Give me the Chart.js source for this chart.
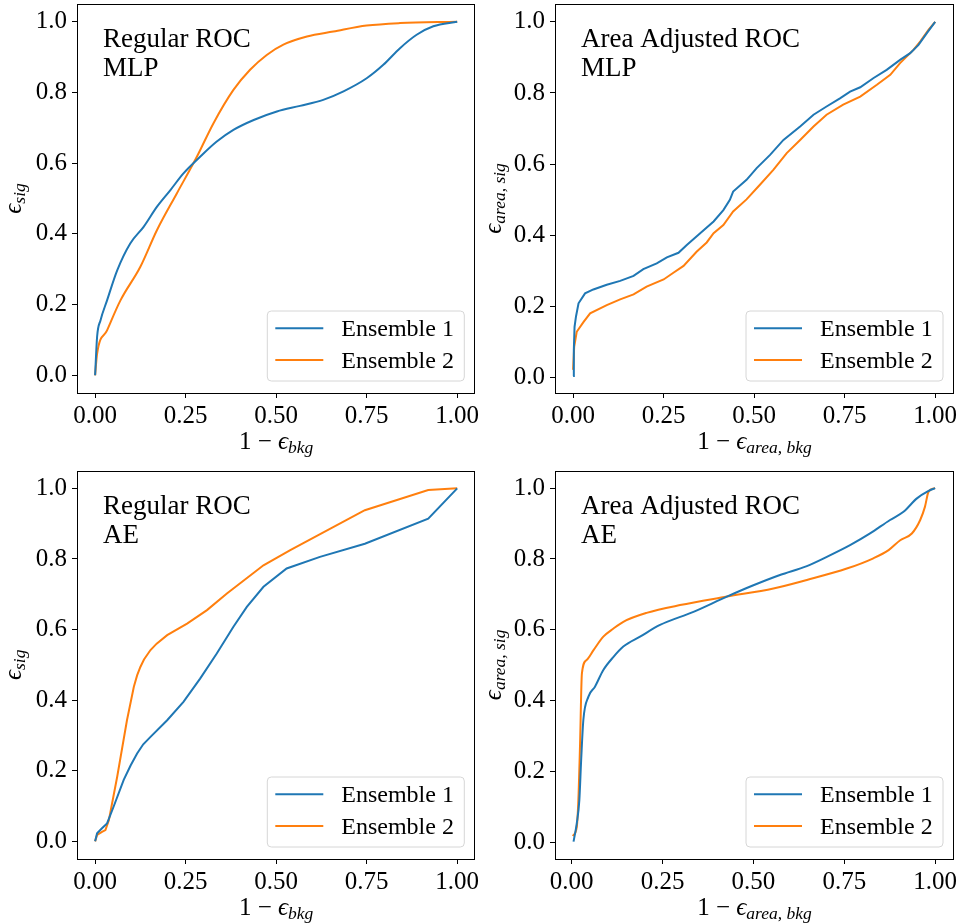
<!DOCTYPE html>
<html>
<head>
<meta charset="utf-8">
<script src="https://cdn.jsdelivr.net/npm/chart.js@4.4.1/dist/chart.umd.min.js"></script>
<style>
  body { margin: 0; background: #fff; }
  #wrap { position: relative; width: 961px; height: 924px; }
  canvas { position: absolute; }
</style>
</head>
<body>
<div id="wrap">
  <canvas id="c1" width="480" height="462" style="left:0;top:0"></canvas>
  <canvas id="c2" width="481" height="462" style="left:480px;top:0"></canvas>
  <canvas id="c3" width="480" height="462" style="left:0;top:462px"></canvas>
  <canvas id="c4" width="481" height="462" style="left:480px;top:462px"></canvas>
</div>
<script>
const seriesNames = ["Ensemble 1", "Ensemble 2"];
const seriesColors = ["#1f77b4", "#ff7f0e"];
const xTickValues = [0, 0.25, 0.5, 0.75, 1];
const yTickValues = [0, 0.2, 0.4, 0.6, 0.8, 1];

// Regular ROC, MLP
const mlpRocX1 = [0, 0.0055, 0.015, 0.033, 0.061, 0.097, 0.134, 0.171, 0.208, 0.244, 0.29, 0.336, 0.382, 0.438, 0.502, 0.566, 0.63, 0.686, 0.75, 0.796, 0.842, 0.888, 0.934, 1];
const mlpRocY1 = [0, 0.109, 0.156, 0.212, 0.297, 0.373, 0.42, 0.477, 0.524, 0.571, 0.618, 0.661, 0.694, 0.722, 0.746, 0.762, 0.779, 0.803, 0.84, 0.878, 0.925, 0.963, 0.987, 1];
const mlpRocX2 = [0, 0.0055, 0.033, 0.07, 0.125, 0.171, 0.226, 0.281, 0.327, 0.382, 0.428, 0.474, 0.52, 0.585, 0.658, 0.75, 0.842, 1];
const mlpRocY2 = [0, 0.061, 0.127, 0.212, 0.307, 0.411, 0.515, 0.618, 0.713, 0.807, 0.864, 0.906, 0.935, 0.958, 0.972, 0.989, 0.996, 1];

// Area adjusted ROC, MLP
const mlpAreaX1 = [0, 0.002, 0.004, 0.008, 0.015, 0.033, 0.056, 0.093, 0.13, 0.167, 0.194, 0.231, 0.259, 0.291, 0.314, 0.351, 0.388, 0.415, 0.433, 0.442, 0.479, 0.507, 0.544, 0.581, 0.627, 0.664, 0.7, 0.737, 0.765, 0.793, 0.83, 0.866, 0.903, 0.931, 0.954, 0.977, 1];
const mlpAreaY1 = [0.005, 0.078, 0.143, 0.172, 0.209, 0.237, 0.248, 0.261, 0.272, 0.286, 0.305, 0.321, 0.338, 0.351, 0.373, 0.406, 0.439, 0.471, 0.5, 0.523, 0.556, 0.589, 0.626, 0.668, 0.706, 0.739, 0.762, 0.785, 0.804, 0.816, 0.842, 0.865, 0.893, 0.912, 0.935, 0.968, 1];
const mlpAreaX2 = [0, 0.003, 0.01, 0.029, 0.047, 0.093, 0.13, 0.167, 0.203, 0.25, 0.277, 0.305, 0.341, 0.369, 0.388, 0.415, 0.442, 0.479, 0.516, 0.553, 0.59, 0.627, 0.664, 0.7, 0.746, 0.793, 0.839, 0.876, 0.903, 0.94, 0.959, 0.982, 1];
const mlpAreaY2 = [0.022, 0.087, 0.129, 0.157, 0.181, 0.204, 0.22, 0.234, 0.256, 0.276, 0.295, 0.314, 0.354, 0.38, 0.406, 0.429, 0.467, 0.501, 0.542, 0.584, 0.631, 0.668, 0.706, 0.739, 0.767, 0.79, 0.823, 0.851, 0.884, 0.921, 0.945, 0.978, 1];

// Regular ROC, AE
const aeRocX1 = [0, 0.0055, 0.019, 0.033, 0.051, 0.079, 0.098, 0.116, 0.133, 0.153, 0.199, 0.244, 0.29, 0.336, 0.382, 0.419, 0.465, 0.529, 0.621, 0.745, 0.92, 1];
const aeRocY1 = [0, 0.023, 0.037, 0.051, 0.098, 0.174, 0.215, 0.249, 0.275, 0.296, 0.343, 0.395, 0.461, 0.532, 0.608, 0.664, 0.721, 0.773, 0.806, 0.843, 0.914, 1];
const aeRocX2 = [0, 0.0055, 0.019, 0.0285, 0.038, 0.061, 0.088, 0.107, 0.116, 0.125, 0.135, 0.153, 0.17, 0.199, 0.254, 0.309, 0.364, 0.465, 0.539, 0.745, 0.92, 1];
const aeRocY2 = [0, 0.018, 0.027, 0.032, 0.06, 0.183, 0.343, 0.438, 0.47, 0.494, 0.515, 0.542, 0.56, 0.584, 0.617, 0.655, 0.702, 0.782, 0.825, 0.938, 0.995, 1];

// Area adjusted ROC, AE
const aeAreaX1 = [0.005, 0.014, 0.021, 0.026, 0.032, 0.046, 0.064, 0.087, 0.115, 0.142, 0.188, 0.243, 0.335, 0.427, 0.5, 0.573, 0.647, 0.702, 0.766, 0.821, 0.876, 0.913, 0.95, 0.982, 1];
const aeAreaY1 = [0.003, 0.055, 0.12, 0.233, 0.346, 0.412, 0.44, 0.487, 0.524, 0.553, 0.581, 0.614, 0.651, 0.694, 0.726, 0.755, 0.78, 0.806, 0.839, 0.872, 0.91, 0.933, 0.971, 0.992, 1];
const aeAreaX2 = [0.003, 0.014, 0.019, 0.023, 0.028, 0.041, 0.06, 0.087, 0.115, 0.142, 0.206, 0.298, 0.427, 0.555, 0.647, 0.757, 0.83, 0.872, 0.904, 0.936, 0.959, 0.972, 0.982, 1];
const aeAreaY2 = [0.019, 0.045, 0.139, 0.28, 0.477, 0.515, 0.543, 0.581, 0.604, 0.623, 0.648, 0.67, 0.694, 0.717, 0.741, 0.773, 0.802, 0.825, 0.853, 0.872, 0.91, 0.947, 0.99, 1];

const serif = '"Liberation Serif", "DejaVu Serif", serif';

const panels = [
  { id: "c1", title: ["Regular ROC", "MLP"], sub: "bkg", ysub: "sig",
    series: [[mlpRocX1, mlpRocY1], [mlpRocX2, mlpRocY2]], smooth: true,
    x: [-0.05, 1.05], y: [-0.05, 1.05], area: { l: 77, t: 4, r: 475.3, b: 393 } },
  { id: "c2", title: ["Area Adjusted ROC", "MLP"], sub: "area, bkg", ysub: "area, sig",
    series: [[mlpAreaX1, mlpAreaY1], [mlpAreaX2, mlpAreaY2]], smooth: false,
    x: [-0.05, 1.052], y: [-0.043, 1.05], area: { l: 75, t: 4, r: 474, b: 393 } },
  { id: "c3", title: ["Regular ROC", "AE"], sub: "bkg", ysub: "sig",
    series: [[aeRocX1, aeRocY1], [aeRocX2, aeRocY2]], smooth: false,
    x: [-0.05, 1.05], y: [-0.05, 1.05], area: { l: 77, t: 8.7, r: 475.3, b: 397 } },
  { id: "c4", title: ["Area Adjusted ROC", "AE"], sub: "area, bkg", ysub: "area, sig",
    series: [[aeAreaX1, aeAreaY1], [aeAreaX2, aeAreaY2]], smooth: true,
    x: [-0.046, 1.052], y: [-0.046, 1.049], area: { l: 75, t: 8.7, r: 474, b: 397 } }
];

// draws "main" + subscript, centred on x
function drawMath(ctx, main, sub, x, y) {
  const fMain = "25px " + serif, fMainIt = "italic 25px " + serif, fSub = "italic 17.5px " + serif;
  const parts = [[main, fMain, 0], ["\u03f5", fMainIt, 0], [sub, fSub, 4]];
  let total = 0;
  const w = parts.map(p => { ctx.font = p[1]; const m = ctx.measureText(p[0]).width; total += m; return m; });
  let cx = x - total / 2;
  ctx.textAlign = "left";
  ctx.textBaseline = "alphabetic";
  parts.forEach((p, i) => { ctx.font = p[1]; ctx.fillText(p[0], cx, y + p[2]); cx += w[i]; });
}

const decorations = {
  id: "decorations",
  afterDraw(chart, args, opts) {
    const ctx = chart.ctx, ca = chart.chartArea, p = opts.panel;
    ctx.save();
    ctx.fillStyle = "#000";

    // frame
    ctx.strokeStyle = "#000";
    ctx.lineWidth = 1;
    ctx.strokeRect(Math.round(ca.left) + 0.5, Math.round(ca.top) + 0.5,
      Math.round(ca.right - ca.left) - 1, Math.round(ca.bottom - ca.top));

    // axis labels
    drawMath(ctx, "1 \u2212 ", p.sub, (ca.left + ca.right) / 2, ca.bottom + 55.5);
    ctx.save();
    ctx.translate(20.5, (ca.top + ca.bottom) / 2);
    ctx.rotate(-Math.PI / 2);
    drawMath(ctx, "", p.ysub, 0, 0);
    ctx.restore();

    // text in the corner
    ctx.font = "27px " + serif;
    ctx.textAlign = "left";
    ctx.textBaseline = "alphabetic";
    ctx.fillText(p.title[0], ca.left + 26, ca.top + 43.3);
    ctx.fillText(p.title[1], ca.left + 26, ca.top + 71.8);

    // legend
    const bx = ca.right - 208.5, by = ca.bottom - 82.5, bw = 197, bh = 70;
    ctx.beginPath();
    ctx.roundRect(bx + 0.5, by + 0.5, bw, bh, 4);
    ctx.fillStyle = "rgba(255,255,255,0.8)";
    ctx.fill();
    ctx.strokeStyle = "#d6d6d6";
    ctx.stroke();
    ctx.font = "24px " + serif;
    chart.data.datasets.forEach((ds, i) => {
      const ly = by + 17.8 + i * 31.6;
      ctx.beginPath();
      ctx.moveTo(bx + 8.5, ly);
      ctx.lineTo(bx + 56.5, ly);
      ctx.strokeStyle = ds.borderColor;
      ctx.lineWidth = 2;
      ctx.stroke();
      ctx.fillStyle = "#000";
      ctx.fillText(ds.label, bx + 74.5, by + 25.5 + i * 31.6);
    });
    ctx.restore();
  }
};

panels.forEach(p => {
  const canvas = document.getElementById(p.id);
  const a = p.area;
  new Chart(canvas.getContext("2d"), {
    type: "scatter",
    data: {
      datasets: p.series.map((s, i) => ({
        label: seriesNames[i],
        data: s[0].map((x, k) => ({ x: x, y: s[1][k] })),
        showLine: true,
        borderColor: seriesColors[i],
        borderWidth: 2,
        pointRadius: 0,
        fill: false,
        cubicInterpolationMode: p.smooth ? "monotone" : "default",
        tension: 0
      }))
    },
    options: {
      responsive: false,
      animation: false,
      events: [],
      layout: { padding: { left: 0, top: a.t, right: canvas.width - a.r, bottom: 0 } },
      plugins: {
        legend: { display: false },
        tooltip: { enabled: false },
        decorations: { panel: p }
      },
      scales: {
        x: {
          type: "linear",
          min: p.x[0], max: p.x[1],
          afterFit: s => {
            s.height = canvas.height - a.b;
            s.paddingLeft = 0; s.paddingRight = 0;
          },
          afterBuildTicks: s => { s.ticks = xTickValues.map(v => ({ value: v })); },
          border: { display: false },
          grid: { drawOnChartArea: false, drawTicks: true, tickLength: 5, tickColor: "#000", color: "#000" },
          ticks: { color: "#000", padding: 3, maxRotation: 0, font: { family: serif, size: 25 },
            callback: v => v.toFixed(2) }
        },
        y: {
          type: "linear",
          min: p.y[0], max: p.y[1],
          afterFit: s => {
            s.width = a.l;
            s.paddingTop = 0; s.paddingBottom = 0;
          },
          afterBuildTicks: s => { s.ticks = yTickValues.map(v => ({ value: v })); },
          border: { display: false },
          grid: { drawOnChartArea: false, drawTicks: true, tickLength: 5, tickColor: "#000", color: "#000" },
          ticks: { color: "#000", padding: 5, font: { family: serif, size: 25 },
            callback: v => v.toFixed(1) }
        }
      }
    },
    plugins: [decorations]
  });
});
</script>
</body>
</html>
